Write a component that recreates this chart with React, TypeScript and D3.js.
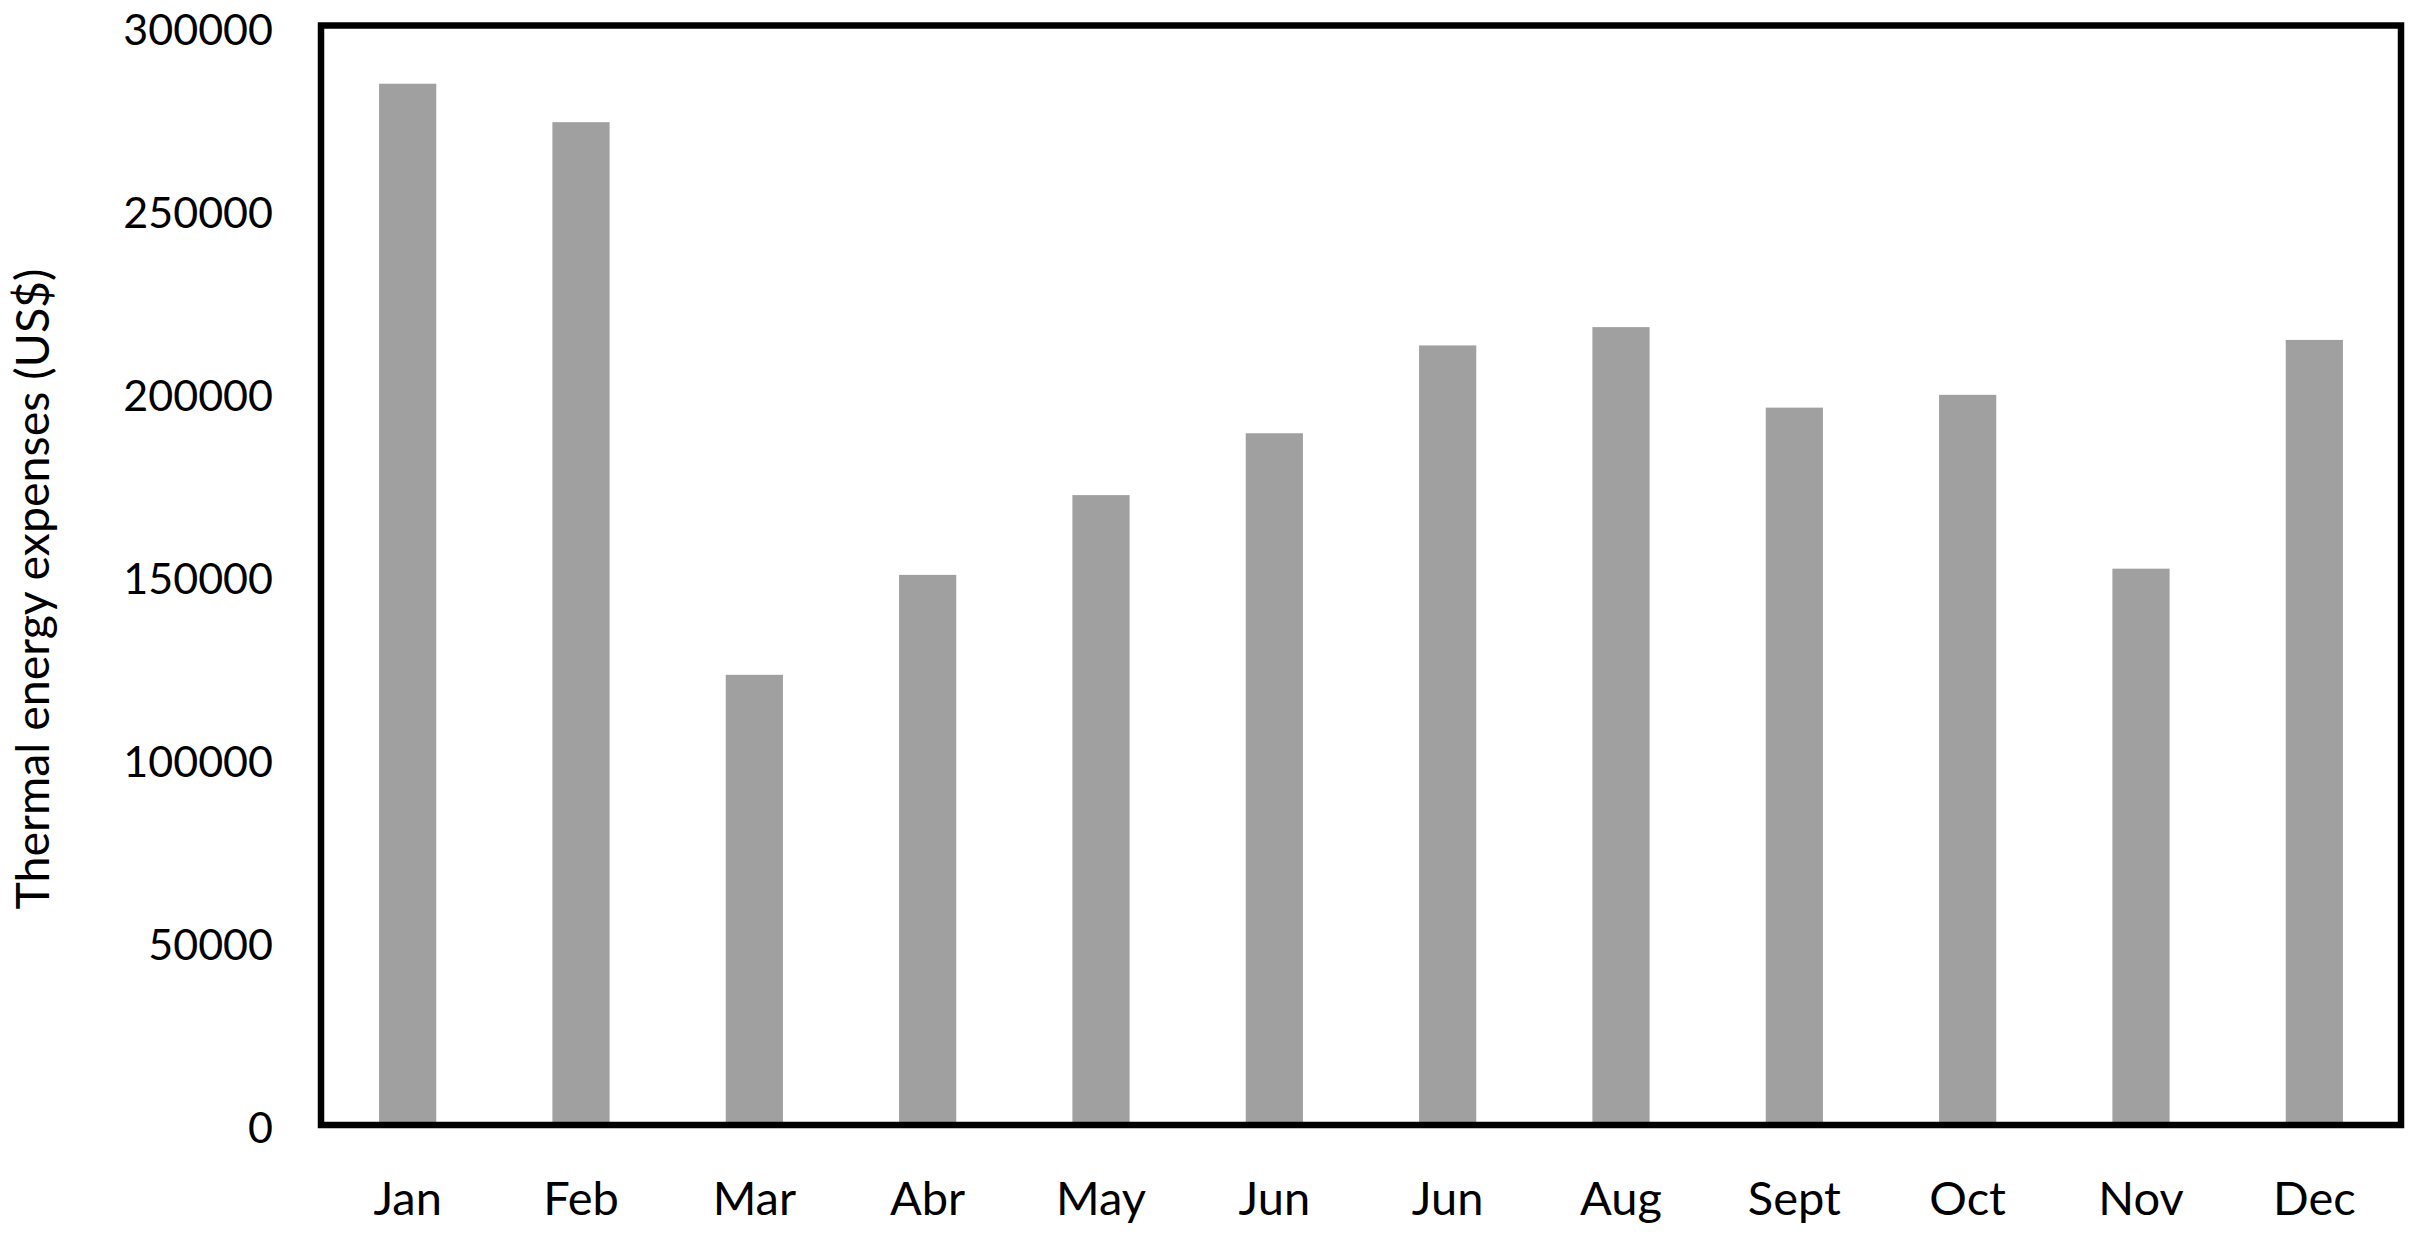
import * as d3 from 'd3';
import React, {useEffect, useRef} from 'react';

// months as printed on the chart (the 7th label really does say "Jun")
const months = ["Jan", "Feb", "Mar", "Abr", "May", "Jun", "Jun", "Aug", "Sept", "Oct", "Nov", "Dec"];
const expenses = [284500, 274000, 123000, 150300, 172100, 189000, 213000, 218000, 196000, 199500, 152000, 214500];
const yTicks = [0, 50000, 100000, 150000, 200000, 250000, 300000];

const W = 2417, H = 1242;
const FONT = "Lato, 'Open Sans', sans-serif";

export default function App() {
    const ref = useRef<SVGSVGElement>(null);

    useEffect(() => {
        const svg = d3.select(ref.current);
        svg.selectAll("*").remove();

        // frame edges (centre of the thick border line)
        const left = 321, right = 2401, top = 25.5, bottom = 1125;

        const xScale = d3.scaleBand<number>()
            .domain(months.map((m, i) => i))
            .range([left, right])
            .paddingInner(0.67)
            .paddingOuter(0.335);
        const yScale = d3.scaleLinear().domain([0, 300000]).range([bottom, 27]);

        // bars
        svg.append("g").selectAll("rect")
            .data(expenses)
          .enter().append("rect")
            .attr("x", (d, i) => xScale(i))
            .attr("y", (d) => yScale(d))
            .attr("width", xScale.bandwidth())
            .attr("height", (d) => bottom - yScale(d))
            .attr("fill", "#a0a0a0");

        // frame
        svg.append("rect")
            .attr("x", left).attr("y", top)
            .attr("width", right - left).attr("height", bottom - top)
            .attr("fill", "none")
            .attr("stroke", "#000")
            .attr("stroke-width", 6.5);

        // y tick labels
        svg.append("g").selectAll("text")
            .data(yTicks)
          .enter().append("text")
            .attr("x", 273)
            .attr("y", (d) => yScale(d) + 3)
            .attr("dy", "0.36em")
            .attr("text-anchor", "end")
            .style("font-family", FONT)
            .style("font-size", "43px")
            .text((d) => d);

        // x labels
        svg.append("g").selectAll("text")
            .data(months)
          .enter().append("text")
            .attr("x", (d, i) => xScale(i) + xScale.bandwidth() / 2)
            .attr("y", 1215)
            .attr("text-anchor", "middle")
            .style("font-family", FONT)
            .style("font-size", "47px")
            .text((d) => d);

        // y axis title
        svg.append("text")
            .attr("transform", "translate(49, 589) rotate(-90)")
            .attr("text-anchor", "middle")
            .style("font-family", FONT)
            .style("font-size", "46.5px")
            .text("Thermal energy expenses (US$)");
    }, []);

    return (
        <svg ref={ref} width={W} height={H}
             style={{position: "absolute", left: 0, top: 0, background: "#fff"}} />
    );
}
